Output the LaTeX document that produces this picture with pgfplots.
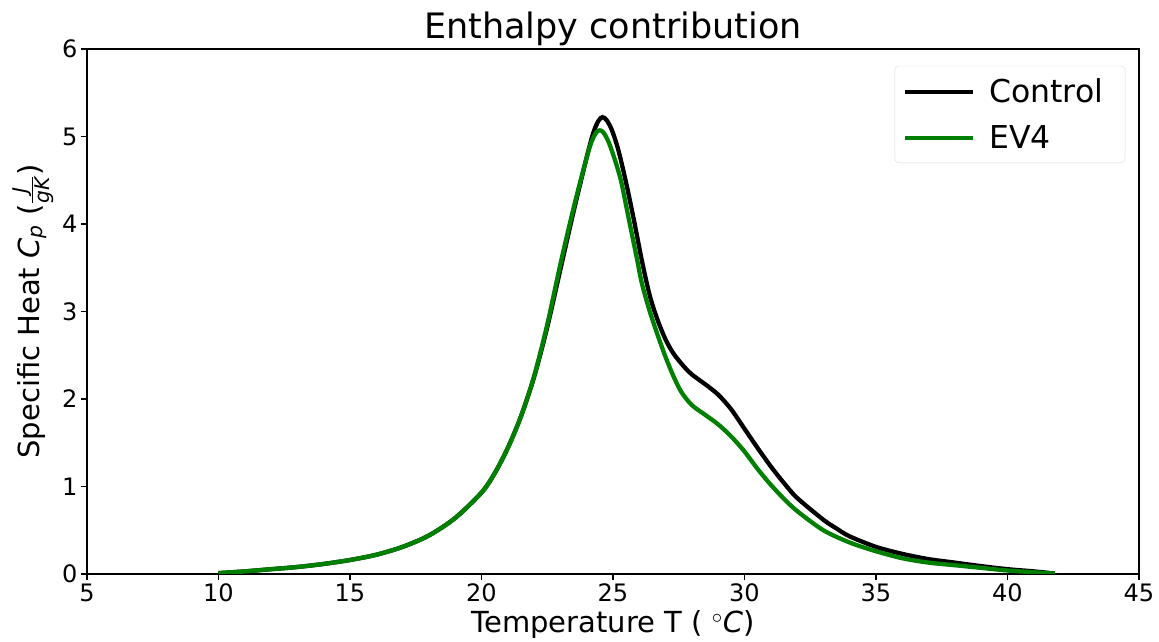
\documentclass[border=0pt]{standalone}
\usepackage{amsmath}
\usepackage{fontspec}
\setmainfont{DejaVu Sans}
\usepackage{pgfplots}
\pgfplotsset{compat=1.18}
\definecolor{mplgreen}{RGB}{0,128,0}
\begin{document}
\begin{tikzpicture}
\path[use as bounding box] (-87pt,-68pt) rectangle (1072pt,574pt);
\begin{axis}[
  at={(0pt,0pt)}, anchor=south west,
  scale only axis,
  width=1052pt, height=525pt,
  xmin=5, xmax=45, ymin=0, ymax=6,
  xtick={5,10,...,45}, ytick={0,1,...,6},
  tick align=outside,
  xtick pos=bottom, ytick pos=left,
  major tick length=6pt,
  every tick/.style={black, line width=1.1pt},
  axis line style={line width=1.1pt},
  /pgf/number format/assume math mode=true,
  ticklabel style={font=\fontsize{24}{28}\selectfont},
  title={Enthalpy contribution},
  title style={font=\fontsize{35}{40}\selectfont, yshift=-6pt},
  xlabel={Temperature T ( $^\circ$\textit{C})},
  ylabel={Specific Heat $\textit{C}_{\textit{p}}$ ($\frac{\textit{J}}{\textit{gK}}$)},
  label style={font=\fontsize{29}{33}\selectfont},
  xlabel style={yshift=-2pt},
  ylabel style={yshift=2pt},
  legend style={at={(0.987,0.968)}, anchor=north east, draw=black!15, rounded corners=4pt,
    font=\fontsize{31.5}{36}\selectfont, row sep=17pt, inner xsep=8pt, inner ysep=11pt,
    nodes={inner xsep=14pt}},
  legend cell align=left,
  legend image code/.code={\draw[#1] (0pt,0pt) -- (68pt,0pt);},
]
\addplot[black, line width=4.3pt, smooth] coordinates {
(10,0.01) (11,0.03) (12,0.055) (13,0.08) (14,0.115) (15,0.16) (16,0.22) (17,0.31) (18,0.44) (19,0.64) (20,0.93) (20.5,1.15) (21,1.44) (21.5,1.80) (22,2.25) (22.5,2.82) (23,3.48) (23.5,4.14) (24,4.76) (24.25,5.04) (24.45,5.18) (24.6,5.22) (24.75,5.19) (24.95,5.08) (25.2,4.85) (25.5,4.47) (25.8,4.04) (26.1,3.58) (26.4,3.18) (26.7,2.90) (27.0,2.68) (27.3,2.52) (27.7,2.37) (28,2.28) (28.5,2.17) (29,2.05) (29.5,1.88) (30,1.66) (30.5,1.44) (31,1.23) (31.5,1.04) (32,0.87) (33,0.62) (33.5,0.52) (34,0.43) (35,0.31) (36,0.23) (37,0.17) (38,0.13) (39,0.09) (40,0.055) (41,0.03) (41.8,0.005)
};
\addlegendentry{Control}
\addplot[mplgreen, line width=4.3pt, smooth] coordinates {
(10,0.01) (11,0.03) (12,0.055) (13,0.08) (14,0.115) (15,0.16) (16,0.22) (17,0.31) (18,0.44) (19,0.64) (20,0.93) (20.5,1.15) (21,1.44) (21.5,1.80) (22,2.26) (22.5,2.85) (23,3.54) (23.5,4.18) (24,4.76) (24.2,4.95) (24.375,5.05) (24.5,5.07) (24.625,5.05) (24.8,4.96) (25.0,4.80) (25.3,4.50) (25.6,4.06) (25.9,3.62) (26.1,3.32) (26.4,3.00) (26.7,2.73) (27,2.48) (27.3,2.26) (27.6,2.08) (28,1.93) (28.5,1.82) (29,1.71) (29.5,1.57) (30,1.40) (30.5,1.20) (31,1.02) (31.5,0.86) (32,0.72) (33,0.50) (34,0.36) (35,0.26) (36,0.18) (37,0.13) (38,0.10) (39,0.07) (40,0.04) (41,0.02) (41.8,0.005)
};
\addlegendentry{EV4}
\end{axis}
\end{tikzpicture}
\end{document}
